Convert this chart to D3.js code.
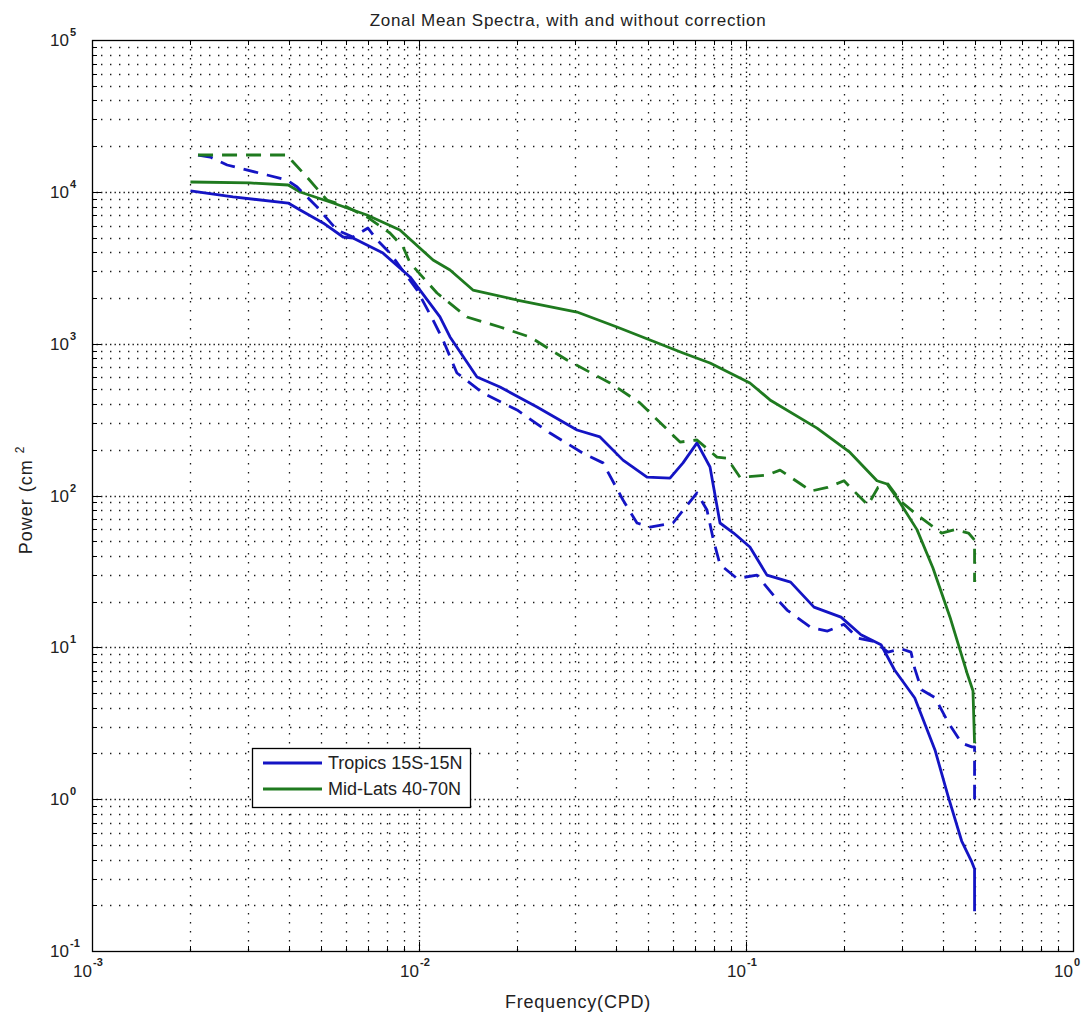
<!DOCTYPE html>
<html>
<head>
<meta charset="utf-8">
<script src="https://cdn.jsdelivr.net/npm/d3@7"></script>
<style>
  html, body { margin: 0; padding: 0; background: #fff; }
  svg { display: block; font-family: "Liberation Sans", Arial, Helvetica, sans-serif; }
</style>
</head>
<body>
<svg id="chart" width="1089" height="1016"></svg>
<script>
// ---- Data ----
const titleText = "Zonal Mean Spectra, with and without correction";
const xLabelText = "Frequency(CPD)";
const yLabelText = "Power (cm";
const yLabelSup = "2";
const legendLabels = ["Tropics 15S-15N", "Mid-Lats 40-70N"];

const xTickExponents = [-3, -2, -1, 0];
const yTickExponents = [-1, 0, 1, 2, 3, 4, 5];

// Tropics, solid line
const tropicsSolidFreq  = [0.00200, 0.00270, 0.00398, 0.00433, 0.00509, 0.00586, 0.00628, 0.00776, 0.00939, 0.01159,
  0.01244, 0.01504, 0.01769, 0.02296, 0.03042, 0.03577, 0.04206, 0.04980, 0.05855, 0.06418,
  0.07083, 0.07762, 0.08327, 0.09166, 0.1028, 0.1159, 0.1369, 0.1614, 0.1952, 0.2247,
  0.2588, 0.2847, 0.3282, 0.3784, 0.4147, 0.4566, 0.4903, 0.5, 0.5];
const tropicsSolidPower = [10130, 9250, 8440, 7590, 6240, 5040, 4960, 3950, 2750, 1500,
  1107, 603, 518, 383, 270, 243, 171, 132, 130, 164,
  222, 154, 65.9, 56.6, 45.8, 29.9, 26.9, 18.4, 15.8, 12.1,
  10.4, 7.09, 4.64, 2.11, 1.05, 0.53, 0.386, 0.347, 0.183];

// Tropics, dashed line
const tropicsDashedFreq  = [0.00211, 0.00230, 0.00259, 0.00343, 0.00395, 0.00424, 0.00488, 0.00561, 0.00628, 0.00698,
  0.00744, 0.00815, 0.00986, 0.01104, 0.01184, 0.01306, 0.01569, 0.01994, 0.02515, 0.03173,
  0.03653, 0.04206, 0.04642, 0.05087, 0.05981, 0.07083, 0.07598, 0.07950, 0.08327, 0.09387,
  0.1080, 0.1218, 0.1335, 0.1580, 0.1775, 0.1994, 0.2196, 0.2472, 0.2718, 0.2979,
  0.3195, 0.3282, 0.3441, 0.3784, 0.4147, 0.4566, 0.4903, 0.5, 0.5];
const tropicsDashedPower = [17480, 16960, 15020, 12910, 11970, 10760, 7945, 5606, 5040, 5778,
  4816, 3955, 2256, 1432, 1057, 641, 473, 366, 258, 190,
  164, 93.4, 65.9, 62.0, 65.9, 104, 80.2, 50.9, 35.1, 28.4,
  29.9, 21.8, 17.6, 13.5, 12.8, 14.2, 11.5, 10.9, 9.31, 9.79,
  9.31, 7.24, 5.26, 4.66, 3.22, 2.34, 2.21, 2.21, 1.0];

// Mid-latitudes, solid line
const midlatSolidFreq  = [0.00200, 0.00304, 0.00398, 0.00433, 0.00546, 0.00693, 0.00874, 0.01104, 0.01244, 0.01462,
  0.01994, 0.03042, 0.04030, 0.05087, 0.06418, 0.07762, 0.1028, 0.1184, 0.1649, 0.2080,
  0.2515, 0.2699, 0.2896, 0.3333, 0.3730, 0.4206, 0.4741, 0.4944, 0.5];
const midlatSolidPower = [11610, 11440, 11090, 9975, 8440, 7040, 5606, 3556, 3057, 2256,
  1939, 1616, 1288, 1057, 868, 746, 551, 426, 278, 192,
  125, 119, 96.3, 59.6, 33.3, 15.8, 6.78, 5.18, 2.34];

// Mid-latitudes, dashed line
const midlatDashedFreq  = [0.00211, 0.00395, 0.00412, 0.00454, 0.00523, 0.00594, 0.00693, 0.00815, 0.00894, 0.00939,
  0.01135, 0.01402, 0.01769, 0.02185, 0.02835, 0.03838, 0.04740, 0.06284, 0.07083, 0.08152,
  0.08747, 0.09587, 0.1159, 0.1271, 0.1470, 0.1580, 0.1775, 0.1994, 0.2139, 0.2360,
  0.2533, 0.2718, 0.2979, 0.3357, 0.3964, 0.4357, 0.4790, 0.5, 0.5];
const midlatDashedPower = [17480, 17480, 15720, 12520, 8835, 8065, 6830, 5357, 4330, 3399,
  2157, 1498, 1288, 1106, 780, 551, 407, 225, 232, 179,
  176, 132, 136, 147, 119, 107, 113, 125, 107, 86.6,
  113, 119, 91.2, 73.7, 56.6, 59.6, 56.6, 50.9, 26.9];

const blueColor = "#1414c4";
const greenColor = "#1f7a1f";

(function draw() {
  const W = 1089, H = 1016;
  const pL = 92, pR = 1073, pT = 40, pB = 951;
  const svg = d3.select("#chart");
  svg.append("rect").attr("width", W).attr("height", H).attr("fill", "#fff");

  const x = d3.scaleLog().domain([1e-3, 1]).range([pL, pR]);
  const y = d3.scaleLog().domain([1e-1, 1e5]).range([pB, pT]);

  const xGrid = [];
  for (let k = -3; k < 0; k++) for (let m = 1; m <= 9; m++) xGrid.push(m * Math.pow(10, k));
  xGrid.push(1);
  const yGrid = [];
  for (let k = -1; k < 5; k++) for (let m = 1; m <= 9; m++) yGrid.push(m * Math.pow(10, k));
  yGrid.push(1e5);

  const isMajor = v => Math.abs(Math.log10(v) - Math.round(Math.log10(v))) < 1e-9;

  // dotted grid: minor grid on every position, major grid drawn again (offset) on decades
  const grid = svg.append("g").attr("stroke", "#1a1a1a").attr("stroke-width", 1.3).attr("stroke-dasharray", "1.4,7.6");
  const xIn = xGrid.filter(v => v > 1.0001e-3 && v < 0.9999);
  const yIn = yGrid.filter(v => v > 1.0001e-1 && v < 0.9999e5);
  grid.selectAll("line.v").data(xIn).enter().append("line")
    .attr("x1", d => Math.round(x(d)) + 0.5).attr("x2", d => Math.round(x(d)) + 0.5)
    .attr("y1", pT).attr("y2", pB);
  grid.selectAll("line.h").data(yIn).enter().append("line")
    .attr("y1", d => Math.round(y(d)) + 0.5).attr("y2", d => Math.round(y(d)) + 0.5)
    .attr("x1", pL).attr("x2", pR);
  grid.selectAll("line.vm").data(xIn.filter(isMajor)).enter().append("line")
    .attr("stroke-dashoffset", 4.5)
    .attr("x1", d => Math.round(x(d)) + 0.5).attr("x2", d => Math.round(x(d)) + 0.5)
    .attr("y1", pT).attr("y2", pB);
  grid.selectAll("line.hm").data(yIn.filter(isMajor)).enter().append("line")
    .attr("stroke-dashoffset", 4.5)
    .attr("y1", d => Math.round(y(d)) + 0.5).attr("y2", d => Math.round(y(d)) + 0.5)
    .attr("x1", pL).attr("x2", pR);

  const ticks = svg.append("g").attr("stroke", "#000").attr("stroke-width", 1);
  xGrid.forEach(v => {
    const px = Math.round(x(v)) + 0.5, L = isMajor(v) ? 9 : 5;
    ticks.append("line").attr("x1", px).attr("x2", px).attr("y1", pB).attr("y2", pB - L);
    ticks.append("line").attr("x1", px).attr("x2", px).attr("y1", pT).attr("y2", pT + L);
  });
  yGrid.forEach(v => {
    const py = Math.round(y(v)) + 0.5, L = isMajor(v) ? 9 : 5;
    ticks.append("line").attr("y1", py).attr("y2", py).attr("x1", pL).attr("x2", pL + L);
    ticks.append("line").attr("y1", py).attr("y2", py).attr("x1", pR).attr("x2", pR - L);
  });

  const line = d3.line().x(d => x(d[0])).y(d => y(d[1]));
  const zip = (a, b) => a.map((v, i) => [v, b[i]]);
  const series = [
    { f: tropicsSolidFreq, p: tropicsSolidPower, color: blueColor, dash: null },
    { f: midlatSolidFreq, p: midlatSolidPower, color: greenColor, dash: null },
    { f: tropicsDashedFreq, p: tropicsDashedPower, color: blueColor, dash: "15,9" },
    { f: midlatDashedFreq, p: midlatDashedPower, color: greenColor, dash: "15,9" }
  ];
  svg.append("g").selectAll("path").data(series).enter().append("path")
    .attr("d", s => line(zip(s.f, s.p)))
    .attr("fill", "none")
    .attr("stroke", s => s.color)
    .attr("stroke-width", 2.8)
    .attr("stroke-linejoin", "round")
    .attr("stroke-dasharray", s => s.dash);

  svg.append("rect").attr("x", pL + 0.5).attr("y", pT + 0.5)
    .attr("width", pR - pL).attr("height", pB - pT)
    .attr("fill", "none").attr("stroke", "#000").attr("stroke-width", 1.3);

  const lab = svg.append("g").attr("fill", "#222");
  yTickExponents.forEach(e => {
    const py = y(Math.pow(10, e));
    lab.append("text").attr("x", 69).attr("y", py + 6).attr("text-anchor", "end")
      .attr("font-size", 17).text("10");
    lab.append("text").attr("x", 70).attr("y", py - 4).attr("text-anchor", "start")
      .attr("font-size", 11).attr("font-weight", "bold").text(e < 0 ? "-" + Math.abs(e) : String(e));
  });
  xTickExponents.forEach(e => {
    const px = x(Math.pow(10, e));
    lab.append("text").attr("x", px).attr("y", 977).attr("text-anchor", "end")
      .attr("font-size", 17).text("10");
    lab.append("text").attr("x", px + 1).attr("y", 966).attr("text-anchor", "start")
      .attr("font-size", 11).attr("font-weight", "bold").text(e < 0 ? "-" + Math.abs(e) : String(e));
  });

  svg.append("text").attr("x", 568).attr("y", 26).attr("text-anchor", "middle")
    .attr("font-size", 17).attr("letter-spacing", 0.7).attr("fill", "#222").text(titleText);
  svg.append("text").attr("x", 578).attr("y", 1008).attr("text-anchor", "middle")
    .attr("font-size", 18).attr("letter-spacing", 0.8).attr("fill", "#222").text(xLabelText);
  const yl = svg.append("text").attr("transform", "translate(32,500) rotate(-90)")
    .attr("text-anchor", "middle").attr("font-size", 18).attr("letter-spacing", 1).attr("fill", "#222");
  yl.append("tspan").text(yLabelText + " ");
  yl.append("tspan").attr("dy", -8).attr("font-size", 12).text(yLabelSup);

  const lg = svg.append("g");
  lg.append("rect").attr("x", 252.5).attr("y", 748.5).attr("width", 218).attr("height", 59)
    .attr("fill", "#fff").attr("stroke", "#000").attr("stroke-width", 1.3);
  [blueColor, greenColor].forEach((c, i) => {
    const ly = 763 + i * 26;
    lg.append("line").attr("x1", 263).attr("x2", 322).attr("y1", ly).attr("y2", ly)
      .attr("stroke", c).attr("stroke-width", 2.8);
    lg.append("text").attr("x", 328).attr("y", ly + 6).attr("font-size", 18).attr("fill", "#222")
      .text(legendLabels[i]);
  });
})();
</script>
</body>
</html>
